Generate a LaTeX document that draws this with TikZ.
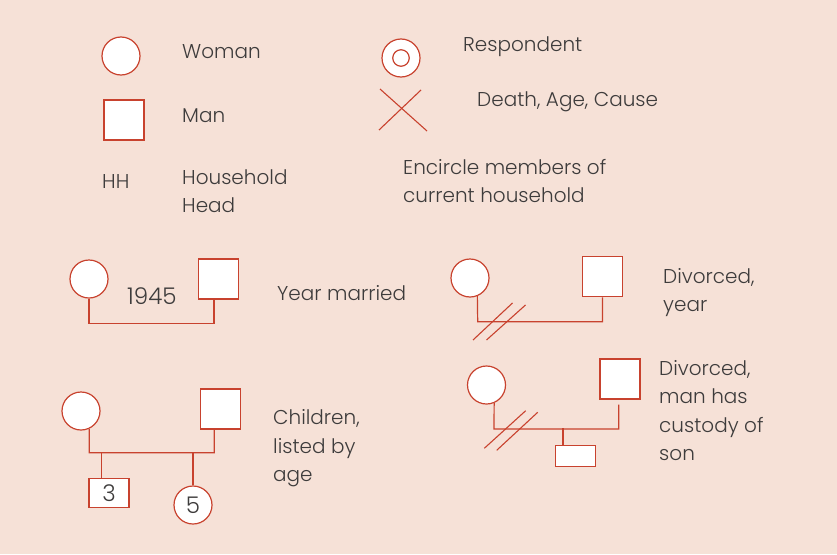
\documentclass[tikz,border=0pt]{standalone}
\usepackage{fontspec}
\setmainfont{Poppins}[UprightFont={* Light}]
\usetikzlibrary{positioning,calc}
\definecolor{peach}{RGB}{246,225,215}
\definecolor{kinred}{RGB}{200,66,46}
\definecolor{txtgray}{RGB}{62,60,60}
\tikzset{
	woman/.style={circle,draw=kinred,fill=white,line width=1.2pt,minimum size=38pt,inner sep=0pt},
	man/.style={rectangle,draw=kinred,fill=white,line width=1.2pt,minimum size=40pt,inner sep=0pt},
	kinline/.style={draw=kinred,line width=1.2pt},
	lbl/.style={anchor=west,inner sep=0pt,text=txtgray,align=left,font=\fontsize{20}{28.5}\selectfont},
	num/.style={text=txtgray,font=\fontsize{23}{26}\selectfont},
}

\begin{document}
\begin{tikzpicture}[x=1pt,y=-1pt]
		\fill[peach] (0,0) rectangle (837,554);
		\useasboundingbox (0,0) rectangle (837,554);
		
		% legend
		\node[woman] (lw) at (121,56) {};
		\node[lbl] (lwt) at (182,52) {Woman};
		\node[man] (lm) at (124,120) {};
		\node[lbl] (lmt) at (182,116) {Man};
		\node[lbl] (hh) at (102,182) {HH};
		\node[lbl] (hht) at (182,191) {Household\\Head};
		
		\node[woman] (resp) at (401,58) {};
		\node[circle,draw=kinred,line width=1.2pt,minimum size=16.5pt,inner sep=0pt] (respin) at (resp.center) {};
		\node[lbl] (respt) at (463,47) {Respondent};
		\draw[kinred,line width=1.1pt] (380,89)--(427,131);
		\draw[kinred,line width=1.1pt] (421,90)--(379,130);
		\node[lbl] (dt) at (477,102) {Death, Age, Cause};
		\node[lbl] (enc) at (403,181) {Encircle members of\\current household};
		
		% married
		\node[woman] (w1) at (89,279) {};
		\node[man] (m1) at (218.5,279) {};
		\draw[kinline] (w1.south)--++(0,25)-|($(m1.south)+(-4.5,0)$);
		\node[lbl,num] (yr) at (127,296) {1945};
		\node[lbl] (m1t) at (277,293) {Year married};
		
		% divorced
		\node[woman] (w2) at (470,278) {};
		\node[man] (m2) at (602.5,276.7) {};
		\coordinate (d2) at (477.7,321.7);
		\draw[kinline] (w2.-68)--(d2)-|(m2.south);
		\draw[kinred,line width=1.1pt] (473,340)--(512.5,303);
		\draw[kinred,line width=1.1pt] (486.5,340)--(525.5,305);
		\node[lbl] (m2t) at (663,292.5) {Divorced,\\year};
		
		% children
		\node[woman] (w3) at (81,411) {};
		\node[man] (m3) at (220.7,409) {};
		\node[man,minimum height=29pt,num] (c1) at (109,493) {3};
		\node[woman,num] (c2) at (193,505) {5};
		\coordinate (d3) at (89.3,452.7);
		\draw[kinline] (w3.-65)--(d3)-|($(m3.south)+(-6.5,0)$);
		\draw[kinline] ($(c1.north)+(-7.3,0)$)--++(0,-25.6);
		\draw[kinline] (c2.north)--(c2.north|-d3);
		\node[lbl] (m3t) at (273,448.3) {Children,\\listed by\\age};
		
		% custody
		\node[woman] (w4) at (486.5,385) {};
		\node[man] (m4) at (620,379) {};
		\node[man,minimum height=21pt] (s4) at (575.7,455.8) {};
		\coordinate (d4) at (494,429);
		\coordinate (g4) at ($(m4.south)+(-1.3,5)$);
		\draw[kinline] (w4.-67)--(d4)-|(g4);
		\draw[kinline] ($(s4.north)+(-12.7,0)$)--++(0,-16.3);
		\draw[kinred,line width=1.1pt] (484.3,448.3)--(525.7,410.7);
		\draw[kinred,line width=1.1pt] (496.7,450.3)--(537.7,412.3);
		\node[lbl] (m4t) at (659,410.5) {Divorced,\\man has\\custody of\\son};
	\end{tikzpicture}
\end{document}
